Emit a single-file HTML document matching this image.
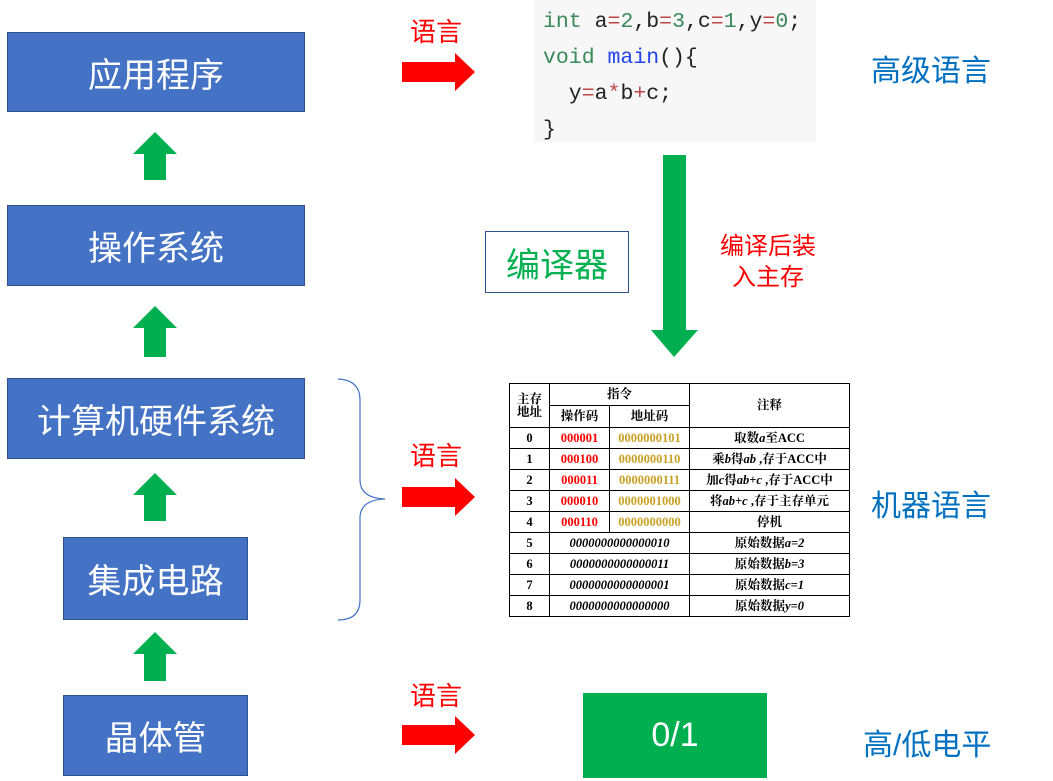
<!DOCTYPE html>
<html><head><meta charset="utf-8"><style>
body{margin:0;width:1053px;height:781px;background:#fff;position:relative;overflow:hidden;font-family:"Liberation Sans","Noto Sans CJK SC",sans-serif}
.b{position:absolute;background:#4472C4;border:1.5px solid #2F528F;color:#fff;font-size:34px;display:flex;align-items:center;justify-content:center;box-sizing:border-box}
.t{position:absolute;white-space:nowrap}
.red{color:#f00;font-size:26px}
.blue{color:#0070C0;font-size:30px}
table{position:absolute;left:509px;top:383px;width:340px;height:234px;border-collapse:collapse;table-layout:fixed;font-family:"Liberation Serif","Noto Serif CJK SC",serif;font-weight:bold;font-size:12.5px;text-align:center}
td{border:1px solid #000;padding:0;line-height:1;white-space:nowrap;overflow:hidden}
.r{color:#f00}.y{color:#C9A227}i{font-weight:bold}
</style></head><body>
<div class="b" style="left:7px;top:32px;width:298px;height:80px">应用程序</div>
<div class="b" style="left:7px;top:205px;width:298px;height:81px">操作系统</div>
<div class="b" style="left:7px;top:378px;width:298px;height:81px">计算机硬件系统</div>
<div class="b" style="left:63px;top:537px;width:185px;height:83px">集成电路</div>
<div class="b" style="left:63px;top:695px;width:185px;height:81px">晶体管</div>
<svg width="1053" height="781" style="position:absolute;left:0;top:0">
<g fill="#00B050">
<polygon points="155,132 177,154 166,154 166,180 144,180 144,154 133,154"/>
<polygon points="155,306 177,328 166,328 166,357 144,357 144,328 133,328"/>
<polygon points="155,473 177,495 166,495 166,521 144,521 144,495 133,495"/>
<polygon points="155,632 177,654 166,654 166,681 144,681 144,654 133,654"/>
<polygon points="663,155 686,155 686,330 698,330 674,357 651,330 663,330"/>
</g>
<g fill="#f00">
<polygon points="402,62 455,62 455,53 475,72 455,91 455,82 402,82"/>
<polygon points="402,487 455,487 455,478 475,497 455,516 455,507 402,507"/>
<polygon points="402,725 455,725 455,716 475,735 455,754 455,745 402,745"/>
</g>
<path d="M338,379 Q360,380 360,400 L360,480 Q360,498 385,499 Q360,500 360,518 L360,600 Q360,620 338,620" fill="none" stroke="#4472C4" stroke-width="1.2"/>
</svg>
<div class="t red" style="left:410px;top:12px">语言</div>
<div class="t red" style="left:410px;top:436px">语言</div>
<div class="t red" style="left:410px;top:676px">语言</div>
<div style="position:absolute;left:534px;top:0;width:282px;height:142px;background:#f7f7f7;font-family:'Liberation Mono',monospace;font-size:21.5px;line-height:36px;padding:4px 0 0 9px;box-sizing:border-box;color:#222;white-space:nowrap">
<div><span style="color:#3a8a5a">int</span> a<span style="color:#b44">=</span><span style="color:#3a8a5a">2</span>,b<span style="color:#b44">=</span><span style="color:#3a8a5a">3</span>,c<span style="color:#b44">=</span><span style="color:#3a8a5a">1</span>,y<span style="color:#b44">=</span><span style="color:#3a8a5a">0</span>;</div>
<div><span style="color:#3a8a5a">void</span> <span style="color:#2244ee">main</span>(){</div>
<div>&nbsp;&nbsp;y<span style="color:#b44">=</span>a<span style="color:#b44">*</span>b<span style="color:#b44">+</span>c;</div>
<div>}</div></div>
<div class="t blue" style="left:871px;top:46px">高级语言</div>
<div class="t blue" style="left:871px;top:481px">机器语言</div>
<div class="t blue" style="left:863px;top:720px">高/低电平</div>
<div style="position:absolute;left:485px;top:231px;width:144px;height:62px;border:1.5px solid #2F528F;box-sizing:border-box;color:#00B050;font-size:34px;display:flex;align-items:center;justify-content:center">编译器</div>
<div class="t red" style="left:720px;top:231px;font-size:24px;line-height:31px;text-align:center">编译后装<br>入主存</div>
<div style="position:absolute;left:583px;top:693px;width:184px;height:85px;background:#00B050;color:#fff;font-size:34px;display:flex;align-items:center;justify-content:center">0/1</div>
<table>
<colgroup><col style="width:40px"><col style="width:60px"><col style="width:80px"><col style="width:160px"></colgroup>
<tr style="height:22px"><td rowspan="2">主存<br>地址</td><td colspan="2">指令</td><td rowspan="2">注释</td></tr>
<tr style="height:22px"><td>操作码</td><td>地址码</td></tr>
<tr><td>0</td><td class="r">000001</td><td class="y">0000000101</td><td>取数<i>a</i>至ACC</td></tr>
<tr><td>1</td><td class="r">000100</td><td class="y">0000000110</td><td>乘<i>b</i>得<i>ab</i> ,存于ACC中</td></tr>
<tr><td>2</td><td class="r">000011</td><td class="y">0000000111</td><td>加<i>c</i>得<i>ab+c</i> ,存于ACC中</td></tr>
<tr><td>3</td><td class="r">000010</td><td class="y">0000001000</td><td>将<i>ab+c</i> ,存于主存单元</td></tr>
<tr><td>4</td><td class="r">000110</td><td class="y">0000000000</td><td>停机</td></tr>
<tr><td>5</td><td colspan="2"><i>0000000000000010</i></td><td>原始数据<i>a=2</i></td></tr>
<tr><td>6</td><td colspan="2"><i>0000000000000011</i></td><td>原始数据<i>b=3</i></td></tr>
<tr><td>7</td><td colspan="2"><i>0000000000000001</i></td><td>原始数据<i>c=1</i></td></tr>
<tr><td>8</td><td colspan="2"><i>0000000000000000</i></td><td>原始数据<i>y=0</i></td></tr>
</table>
</body></html>
